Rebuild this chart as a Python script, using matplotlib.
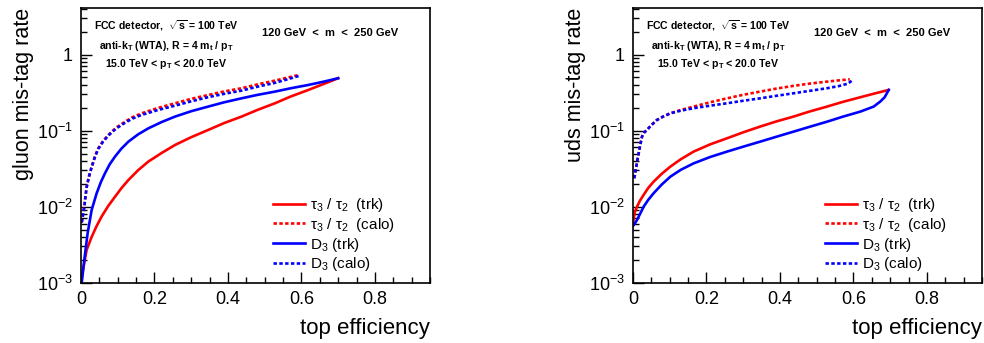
import matplotlib
matplotlib.use("Agg")
import matplotlib.pyplot as plt
from matplotlib.ticker import LogLocator
import numpy as np

plt.rcParams['font.family'] = ['Liberation Sans', 'DejaVu Sans']
plt.rcParams['mathtext.fontset'] = 'custom'
plt.rcParams['mathtext.rm'] = 'Liberation Sans'
plt.rcParams['mathtext.it'] = 'Liberation Sans'
plt.rcParams['mathtext.bf'] = 'Liberation Sans:bold'

# %% data: (top efficiency, mis-tag rate)

# gluon panel
g_tau_trk_x = [0.0, 0.0036, 0.0154, 0.029, 0.042, 0.056, 0.074, 0.0925, 0.110, 0.129, 0.155, 0.183, 0.220, 0.256, 0.300, 0.346, 0.390, 0.437, 0.480, 0.528, 0.570, 0.619, 0.660, 0.700]
g_tau_trk_y = [0.001, 0.00133, 0.0027, 0.0040, 0.0055, 0.0074, 0.0102, 0.0135, 0.0175, 0.0224, 0.0300, 0.0391, 0.0510, 0.0648, 0.0820, 0.102, 0.126, 0.153, 0.187, 0.229, 0.280, 0.343, 0.410, 0.489]
g_d3_trk_x = [0.002, 0.009, 0.018, 0.029, 0.0426, 0.054, 0.0653, 0.078, 0.0925, 0.110, 0.129, 0.155, 0.183, 0.220, 0.256, 0.300, 0.346, 0.390, 0.437, 0.480, 0.528, 0.570, 0.619, 0.660, 0.700]
g_d3_trk_y = [0.001, 0.0020, 0.00446, 0.00904, 0.0150, 0.0210, 0.0275, 0.0360, 0.0455, 0.0580, 0.0716, 0.0890, 0.107, 0.130, 0.153, 0.180, 0.207, 0.236, 0.266, 0.295, 0.326, 0.360, 0.399, 0.440, 0.489]
g_tau_calo_x = [0.002, 0.0036, 0.006, 0.009, 0.012, 0.0154, 0.022, 0.029, 0.038, 0.047, 0.060, 0.0744, 0.095, 0.120, 0.140, 0.165, 0.210, 0.256, 0.300, 0.346, 0.390, 0.437, 0.480, 0.528, 0.560, 0.593]
g_tau_calo_y = [0.0062, 0.0068, 0.0082, 0.010, 0.0135, 0.0183, 0.0255, 0.0336, 0.0460, 0.0586, 0.0730, 0.0877, 0.109, 0.131, 0.150, 0.169, 0.199, 0.229, 0.262, 0.294, 0.328, 0.361, 0.405, 0.455, 0.495, 0.540]
g_d3_calo_x = [0.002, 0.0036, 0.006, 0.009, 0.012, 0.0154, 0.022, 0.029, 0.038, 0.047, 0.060, 0.0744, 0.095, 0.120, 0.140, 0.165, 0.210, 0.256, 0.300, 0.346, 0.390, 0.437, 0.480, 0.528, 0.560, 0.593]
g_d3_calo_y = [0.0062, 0.0068, 0.0082, 0.010, 0.0133, 0.0180, 0.0250, 0.0330, 0.0450, 0.0575, 0.0715, 0.0860, 0.106, 0.127, 0.144, 0.161, 0.187, 0.213, 0.243, 0.275, 0.305, 0.336, 0.378, 0.425, 0.470, 0.524]

# uds panel
u_tau_trk_x = [0.0, 0.0018, 0.005, 0.011, 0.019, 0.029, 0.041, 0.056, 0.078, 0.1016, 0.130, 0.165, 0.210, 0.256, 0.300, 0.346, 0.390, 0.437, 0.480, 0.528, 0.570, 0.619, 0.660, 0.696]
u_tau_trk_y = [0.0057, 0.0070, 0.0085, 0.010, 0.0120, 0.0143, 0.0175, 0.0213, 0.0270, 0.0336, 0.0420, 0.053, 0.066, 0.0793, 0.095, 0.113, 0.132, 0.153, 0.178, 0.207, 0.238, 0.275, 0.310, 0.343]
u_d3_trk_x = [0.0, 0.005, 0.011, 0.019, 0.029, 0.041, 0.056, 0.078, 0.1016, 0.130, 0.165, 0.210, 0.256, 0.300, 0.346, 0.390, 0.437, 0.480, 0.528, 0.570, 0.619, 0.655, 0.673, 0.685, 0.691, 0.696]
u_d3_trk_y = [0.0056, 0.0060, 0.0067, 0.0080, 0.010, 0.0122, 0.015, 0.0195, 0.0248, 0.0305, 0.0371, 0.0450, 0.053, 0.0615, 0.0716, 0.083, 0.097, 0.112, 0.131, 0.152, 0.178, 0.207, 0.241, 0.275, 0.31, 0.343]
u_tau_calo_x = [0.0036, 0.006, 0.009, 0.012, 0.0154, 0.020, 0.0245, 0.030, 0.038, 0.050, 0.065, 0.082, 0.1016, 0.130, 0.165, 0.210, 0.256, 0.300, 0.346, 0.390, 0.437, 0.480, 0.528, 0.560, 0.590]
u_tau_calo_y = [0.0236, 0.0280, 0.0336, 0.0410, 0.0503, 0.0660, 0.0834, 0.0940, 0.102, 0.118, 0.138, 0.153, 0.169, 0.187, 0.207, 0.236, 0.266, 0.296, 0.326, 0.357, 0.388, 0.415, 0.441, 0.458, 0.473]
u_d3_calo_x = [0.0036, 0.006, 0.009, 0.012, 0.0154, 0.020, 0.0245, 0.030, 0.038, 0.050, 0.065, 0.082, 0.1016, 0.130, 0.165, 0.210, 0.256, 0.300, 0.346, 0.390, 0.437, 0.480, 0.528, 0.560, 0.585, 0.596]
u_d3_calo_y = [0.0236, 0.0280, 0.0336, 0.0410, 0.0503, 0.0660, 0.0834, 0.0940, 0.102, 0.118, 0.138, 0.153, 0.169, 0.183, 0.197, 0.213, 0.229, 0.247, 0.266, 0.287, 0.310, 0.333, 0.361, 0.385, 0.415, 0.455]

labels = [r"$\tau_3$ / $\tau_2$  (trk)", r"$\tau_3$ / $\tau_2$  (calo)",
          r"D$_3$ (trk)", r"D$_3$ (calo)"]
ylabels = ["gluon mis-tag rate", "uds mis-tag rate"]
xticks = [0, 0.2, 0.4, 0.6, 0.8]
xticklabels = ["0", "0.2", "0.4", "0.6", "0.8"]
yticks = [1e-3, 1e-2, 1e-1, 1]
yticklabels = [r"10$^{-3}$", r"10$^{-2}$", r"10$^{-1}$", "1"]

panels = [
    [(g_tau_trk_x, g_tau_trk_y), (g_tau_calo_x, g_tau_calo_y),
     (g_d3_trk_x, g_d3_trk_y), (g_d3_calo_x, g_d3_calo_y)],
    [(u_tau_trk_x, u_tau_trk_y), (u_tau_calo_x, u_tau_calo_y),
     (u_d3_trk_x, u_d3_trk_y), (u_d3_calo_x, u_d3_calo_y)],
]
colors = ["#ff0000", "#ff0000", "#0000ff", "#0000ff"]
dotted = (0, (1.3, 0.9))
styles = ["-", dotted, "-", dotted]

W, H = 984, 343
fig = plt.figure(figsize=(W / 100, H / 100), dpi=100)

lefts = [81, 633]
for k, left in enumerate(lefts):
    ax = fig.add_axes([left / W, (H - 282.7) / H, 349 / W, (282.7 - 8) / H])
    for (x, y), c, ls, lab in zip(panels[k], colors, styles, labels):
        ax.plot(x, y, color=c, ls=ls, lw=1.9, label=lab)
    ax.set_yscale("log")
    ax.set_xlim(0, 0.95)
    ax.set_ylim(1e-3, 4.1)

    ax.set_xticks(xticks)
    ax.set_xticklabels(xticklabels, fontsize=13)
    ax.set_xticks(np.arange(0, 0.951, 0.05), minor=True)
    ax.set_yticks(yticks)
    ax.set_yticklabels(yticklabels, fontsize=13)
    ax.yaxis.set_minor_locator(LogLocator(base=10, subs=np.arange(2, 10), numticks=20))
    ax.yaxis.set_minor_formatter(plt.NullFormatter())
    ax.tick_params(which="both", direction="in", top=False, right=False)
    ax.tick_params(which="major", length=8, width=1, pad=6)
    ax.tick_params(which="minor", length=4.5, width=1)
    for s in ax.spines.values():
        s.set_linewidth(1.2)

    ax.set_xlabel("top efficiency", fontsize=16, loc="right", labelpad=7)
    ax.set_ylabel(ylabels[k], fontsize=15.5, loc="top", labelpad=2)

    ax.text(0.245, 0.935, r"FCC detector,  $\sqrt{\mathbf{s}}$ = 100 TeV", transform=ax.transAxes,
            ha="center", va="center", fontsize=7.6, fontweight="bold")
    ax.text(0.245, 0.86, r"anti-k$_\mathbf{T}$ (WTA), R = 4 m$_\mathbf{t}$ / p$_\mathbf{T}$",
            transform=ax.transAxes, ha="center", va="center", fontsize=7.6, fontweight="bold")
    ax.text(0.245, 0.795, r"15.0 TeV < p$_\mathbf{T}$ < 20.0 TeV", transform=ax.transAxes,
            ha="center", va="center", fontsize=7.6, fontweight="bold")
    ax.text(0.715, 0.91, "120 GeV  <  m  <  250 GeV", transform=ax.transAxes,
            ha="center", va="center", fontsize=8, fontweight="bold")

    ax.legend(loc="lower left", bbox_to_anchor=(0.52, -0.005), frameon=False, fontsize=11,
              handlelength=2.1, handletextpad=0.3, labelspacing=0.12, borderpad=0.2)

fig.savefig("out.png", dpi=100)
